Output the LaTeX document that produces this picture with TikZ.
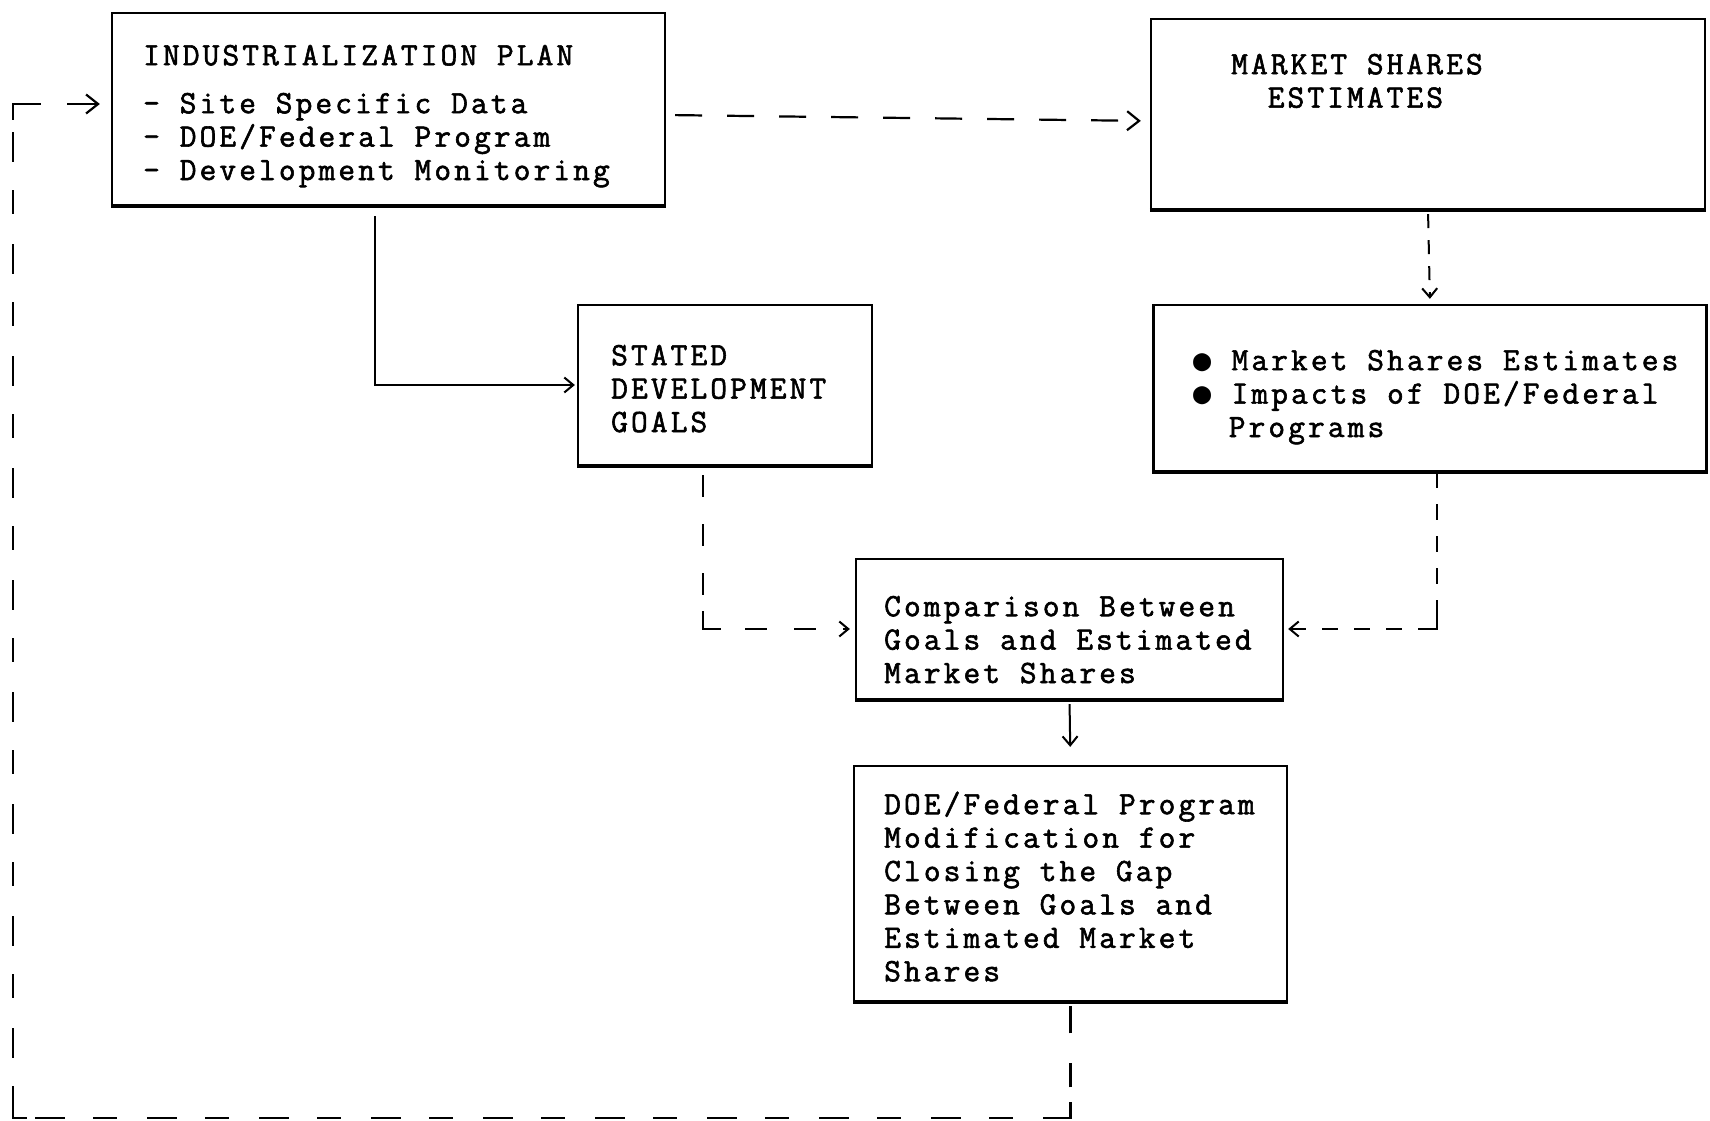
\documentclass[tikz,border=0pt]{standalone}
\usepackage{fontspec}
\newfontfamily\typewriter[FakeBold=1.8, LetterSpace=9.5]{Latin Modern Mono}
\newfontfamily\bulletfont{DejaVu Sans Mono}
\usetikzlibrary{arrows.meta}
\begin{document}
\begin{tikzpicture}[x=1pt,y=-1pt,
  frame/.style={draw, line width=2.3pt, inner sep=0pt},
  txt/.style={anchor=north west, inner sep=0pt, align=left,
    font=\typewriter\fontsize{32.5}{33.4}\selectfont},
  link/.style={line width=2pt, line cap=butt,
    -{Straight Barb[length=9pt,width=15pt,line width=2pt]}},
  biglink/.style={line width=2.2pt, line cap=butt,
    -{Straight Barb[length=12pt,width=19pt,line width=2.2pt]}},
  backlink/.style={line width=2.2pt, line cap=butt,
    {Straight Barb[length=12pt,width=19pt,line width=2.2pt]}-},
  elbow/.style={line cap=butt, line join=miter},
  longdash/.style={dash pattern=on 27pt off 25pt},
  loopdash/.style={dash pattern=on 30pt off 28pt on 24pt off 30pt},
  middash/.style={dash pattern=on 22pt off 27pt},
  shortdash/.style={dash pattern=on 16pt off 16pt},
  tinydash/.style={dash pattern=on 14pt off 12pt}]
\useasboundingbox (0,0) rectangle (1710,1121);
\newcommand\tallstrut{\rule{0pt}{30pt}}
\newcommand\dotmark{{\bulletfont\fontsize{30}{33.4}\selectfont\makebox[19.7pt]{●}}\makebox[19.7pt]{}}

% boxes
\node[frame, minimum width=553pt, minimum height=192pt] (plan)  at (388.5,109) {};
\node[frame, minimum width=554pt, minimum height=190pt] (mse)   at (1428,114)  {};
\node[frame, minimum width=294pt, minimum height=160pt] (goals) at (725,385)   {};
\node[frame, minimum width=553pt, minimum height=166pt] (mkt)   at (1430,388)  {};
\node[frame, minimum width=427pt, minimum height=140pt] (cmp)   at (1069.5,629) {};
\node[frame, minimum width=433pt, minimum height=235pt] (dev)   at (1070.5,883.5) {};
\foreach \b in {plan,mse,goals,mkt,cmp,dev}
  \draw[line width=3.4pt] (\b.south west) -- (\b.south east);

% box texts
\node[txt] (plan-t) at (143,35) {\tallstrut INDUSTRIALIZATION PLAN\\[14.6pt]
  - Site Specific Data\\
  - DOE/Federal Program\\
  - Development Monitoring};
\node[txt] (mse-t) at (1231,44) {\tallstrut MARKET SHARES\\
  \phantom{xx}ESTIMATES};
\node[txt] (goals-t) at (611,335) {\tallstrut STATED\\DEVELOPMENT\\GOALS};
\node[txt] (mkt-t) at (1192,340) {\tallstrut \dotmark Market Shares Estimates\\
  \dotmark Impacts of DOE/Federal\\
  \phantom{xx}Programs};
\node[txt] (cmp-t) at (884,586) {\tallstrut Comparison Between\\
  Goals and Estimated\\Market Shares};
\node[txt] (dev-t) at (884,784) {\tallstrut DOE/Federal Program\\
  Modification for\\Closing the Gap\\Between Goals and\\
  Estimated Market\\Shares};

% connector bends
\coordinate (gdrop) at ([xshift=-22pt]goals.south);
\coordinate (mdrop) at ([xshift=7pt]mkt.south);
\coordinate (entry) at ([yshift=5pt]plan.west);
\coordinate (loopcorner) at (13,1118);
\coordinate (loopturn) at (dev.south |- loopcorner);
\coordinate (looptop) at (loopcorner |- entry);

% connectors
\draw[biglink, longdash, shorten <=9pt, shorten >=9pt]
  ([yshift=-6pt]plan.east) -- ([yshift=-7pt]mse.west);
\draw[link, shorten <=10pt, shorten >=2pt]
  ([xshift=264pt]plan.south west) |- (goals.west);
\draw[link, tinydash, shorten <=4pt, shorten >=5pt] (mse.south) -- (mkt.north);
\draw[link, middash, shorten <=9pt, shorten >=5pt]
  (gdrop) |- (cmp.west);
\draw[line width=2pt, elbow]
  ([yshift=18pt]gdrop |- cmp.west) -- (gdrop |- cmp.west) -- ([xshift=18pt]gdrop |- cmp.west);
\draw[link, shortdash, shorten >=4pt]
  (mdrop) |- (cmp.east);
\draw[line width=2pt, elbow]
  ([yshift=14pt]mdrop |- cmp.east) -- (mdrop |- cmp.east) -- ([xshift=-14pt]mdrop |- cmp.east);
\draw[link, shorten <=4pt, shorten >=18pt] (cmp.south) -- (dev.north);
% feedback loop, drawn from its arrow end back to its source box
\draw[backlink, loopdash, shorten <=11pt, shorten >=4pt]
  (entry) -| (loopcorner) -| (dev.south);
\draw[line width=2.2pt, elbow]
  ([yshift=-16pt]looptop) -- (looptop) -- ([xshift=28pt]looptop);
\draw[line width=2.2pt, elbow]
  ([yshift=12pt]loopcorner) -- (loopcorner) -- ([xshift=14pt]loopcorner);
\draw[line width=2.2pt, elbow]
  ([yshift=16pt]loopturn) -- (loopturn) -- ([xshift=-14pt]loopturn);
\end{tikzpicture}
\end{document}
